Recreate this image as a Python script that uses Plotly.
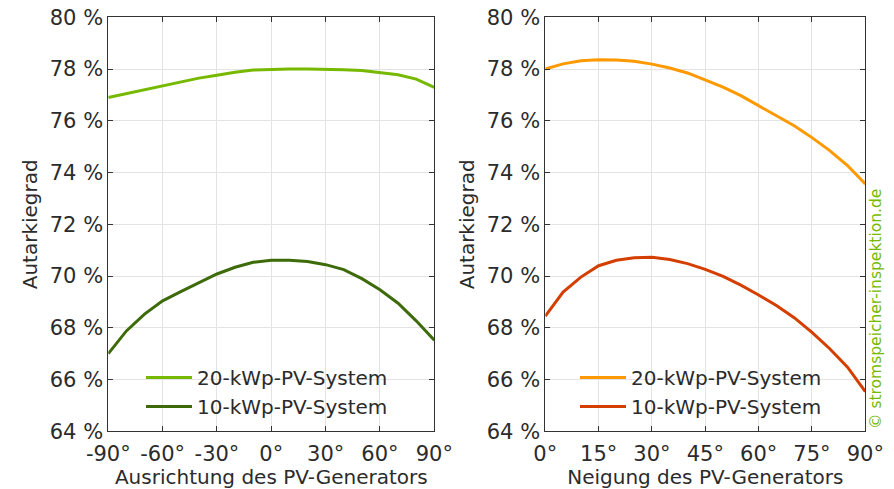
import plotly.graph_objects as go

# ---- data ----
azimuth = [-90, -80, -70, -60, -50, -40, -30, -20, -10, 0, 10, 20, 30, 40, 50, 60, 70, 80, 90]
az_20kw = [76.90, 77.05, 77.21, 77.37, 77.52, 77.65, 77.76, 77.88, 77.96, 77.99, 78.00, 78.00, 77.99,
           77.97, 77.94, 77.87, 77.78, 77.61, 77.29]
az_10kw = [67.00, 67.88, 68.53, 69.04, 69.40, 69.73, 70.08, 70.34, 70.53, 70.61, 70.61, 70.56, 70.44,
           70.25, 69.90, 69.47, 68.95, 68.27, 67.52]

tilt = [0, 5, 10, 15, 20, 25, 30, 35, 40, 45, 50, 55, 60, 65, 70, 75, 80, 85, 90]
tilt_20kw = [78.00, 78.20, 78.32, 78.36, 78.35, 78.30, 78.19, 78.04, 77.85, 77.59, 77.30, 76.97, 76.58,
             76.21, 75.81, 75.35, 74.85, 74.27, 73.56]
tilt_10kw = [68.45, 69.38, 69.96, 70.40, 70.61, 70.71, 70.73, 70.64, 70.48, 70.26, 69.99, 69.65, 69.27,
             68.86, 68.39, 67.82, 67.19, 66.48, 65.53]

series_names = ["20-kWp-PV-System", "10-kWp-PV-System"]
az_ticks = [-90, -60, -30, 0, 30, 60, 90]
az_ticktext = ["-90°", "-60°", "-30°", "0°", "30°", "60°", "90°"]
tilt_ticks = [0, 15, 30, 45, 60, 75, 90]
tilt_ticktext = ["0°", "15°", "30°", "45°", "60°", "75°", "90°"]
y_ticks = [64, 66, 68, 70, 72, 74, 76, 78, 80]
y_ticktext = ["64 %", "66 %", "68 %", "70 %", "72 %", "74 %", "76 %", "78 %", "80 %"]

W, H = 894, 489
FONT = "DejaVu Sans"
TXT = "#2b2b2b"

fig = go.Figure()
fig.add_trace(go.Scatter(x=azimuth, y=az_20kw, mode="lines", name=series_names[0],
                         line=dict(color="#76b900", width=3), xaxis="x", yaxis="y", legend="legend"))
fig.add_trace(go.Scatter(x=azimuth, y=az_10kw, mode="lines", name=series_names[1],
                         line=dict(color="#3d6b0a", width=3), xaxis="x", yaxis="y", legend="legend"))
fig.add_trace(go.Scatter(x=tilt, y=tilt_20kw, mode="lines", name=series_names[0],
                         line=dict(color="#ff9900", width=3), xaxis="x2", yaxis="y2", legend="legend2"))
fig.add_trace(go.Scatter(x=tilt, y=tilt_10kw, mode="lines", name=series_names[1],
                         line=dict(color="#d43f00", width=3), xaxis="x2", yaxis="y2", legend="legend2"))

ytop = 1 - 17.3 / H
ybot = 1 - 431.3 / H

axis_common = dict(showline=True, linecolor="#333333", linewidth=1, mirror="ticks",
                   ticks="inside", ticklen=5, tickcolor="#333333", automargin=False,
                   showgrid=True, gridcolor="#e3e3e3", gridwidth=1, zeroline=False,
                   tickfont=dict(family=FONT, size=21, color=TXT),
                   title_font=dict(family=FONT, size=20, color=TXT))

fig.update_layout(
    width=W, height=H,
    margin=dict(l=0, r=0, t=0, b=0),
    paper_bgcolor="white", plot_bgcolor="white",
    font=dict(family=FONT, size=20, color=TXT),
    xaxis=dict(domain=[108.3 / W, 434.3 / W], range=[-90, 90], tickvals=az_ticks, ticktext=az_ticktext,
               ticklabelstandoff=3,
               title=dict(text="Ausrichtung des PV-Generators", standoff=6), anchor="y", **axis_common),
    yaxis=dict(domain=[ybot, ytop], range=[64, 80], tickvals=y_ticks, ticktext=y_ticktext,
               title=dict(text="Autarkiegrad", standoff=6), anchor="x", **axis_common),
    xaxis2=dict(domain=[545.3 / W, 865.3 / W], range=[0, 90], tickvals=tilt_ticks, ticktext=tilt_ticktext,
                ticklabelstandoff=3,
                title=dict(text="Neigung des PV-Generators", standoff=6), anchor="y2", **axis_common),
    yaxis2=dict(domain=[ybot, ytop], range=[64, 80], tickvals=y_ticks, ticktext=y_ticktext,
                title=dict(text="Autarkiegrad", standoff=6), anchor="x2", **axis_common),
    legend=dict(x=141 / W, y=1 - 358 / H, xanchor="left", yanchor="top", bgcolor="rgba(0,0,0,0)",
                font=dict(family=FONT, size=20, color=TXT), itemwidth=46, tracegroupgap=0),
    legend2=dict(x=575 / W, y=1 - 358 / H, xanchor="left", yanchor="top", bgcolor="rgba(0,0,0,0)",
                 font=dict(family=FONT, size=20, color=TXT), itemwidth=46, tracegroupgap=0),
    annotations=[dict(text="© stromspeicher-inspektion.de", x=876 / W, y=1 - 309 / H, xref="paper", yref="paper",
                      showarrow=False, textangle=-90, font=dict(family=FONT, size=15.5, color="#76b900"),
                      xanchor="center", yanchor="middle")],
)

fig.write_html("out.html")
